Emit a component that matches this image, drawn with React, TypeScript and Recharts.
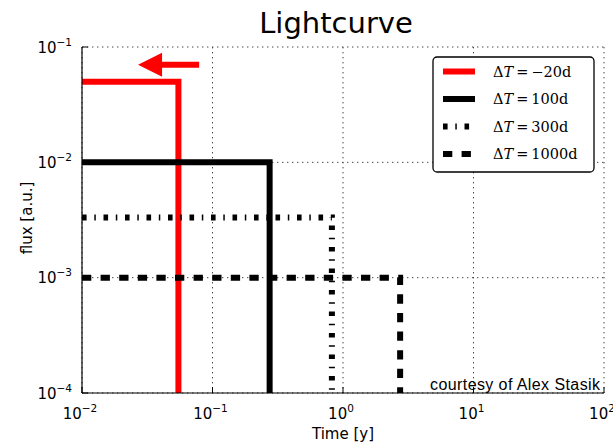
import React from 'react';
import { ComposedChart, Line, XAxis, YAxis, CartesianGrid, ReferenceLine } from 'recharts';

// light curves: flat flux until the drop time, then down to the floor
const deltaLabels = ['\u221220d', '100d', '300d', '1000d'];
const dropTimes = [0.0548, 0.274, 0.822, 2.74]; // years
const fluxLevels = [0.05, 0.01, 0.00333, 0.001]; // a.u.
const startTime = 0.01;
const fluxFloor = 0.0001;

// axes
const xMajor = [0.01, 0.1, 1, 10, 100];
const xExp = ['\u22122', '\u22121', '0', '1', '2'];
const yMajor = [0.0001, 0.001, 0.01, 0.1];
const yExp = ['\u22124', '\u22123', '\u22122', '\u22121'];
const minorSteps = [2, 3, 4, 5, 6, 7, 8, 9];

// annotation arrow (data coords)
const arrowTail = { t: 0.079, f: 0.0702 };
const arrowTip = { t: 0.0269, f: 0.0702 };

const lineStyles = [
  { stroke: '#ff0000', dash: undefined as string | undefined },
  { stroke: '#000000', dash: undefined as string | undefined },
  { stroke: '#000000', dash: '4.6 7.7 1.5 7.7' },
  { stroke: '#000000', dash: '9.3 9.3' },
];

const minorOf = (majors: number[]) =>
  majors.slice(0, -1).flatMap((m) => minorSteps.map((k) => +(m * k).toPrecision(3)));
const xMinor = minorOf(xMajor);
const yMinor = minorOf(yMajor);
const xAll = [...xMajor, ...xMinor];
const yAll = [...yMajor, ...yMinor];

const series = dropTimes.map((t, i) => [
  { t: startTime, f: fluxLevels[i] },
  { t, f: fluxLevels[i] },
  { t, f: fluxFloor },
]);

const SANS = 'DejaVu Sans, sans-serif';
const MAJOR = 6;
const MINOR = 3;

const majorIndex = (v: number, majors: number[]) =>
  majors.findIndex((m) => Math.abs(v / m - 1) < 1e-6);

const BottomTick = (p: any) => {
  const i = majorIndex(p.payload.value, xMajor);
  return (
    <g>
      <line x1={p.x} x2={p.x} y1={p.y} y2={p.y - MAJOR} stroke="#000" />
      <text x={p.x - 2} y={p.y + 26} textAnchor="middle" fontFamily={SANS} fontSize={15} fill="#000">
        10<tspan dy={-7} fontSize={10.5}>{xExp[i]}</tspan>
      </text>
    </g>
  );
};

const LeftTick = (p: any) => {
  const i = majorIndex(p.payload.value, yMajor);
  return (
    <g>
      <line x1={p.x} x2={p.x + MAJOR} y1={p.y} y2={p.y} stroke="#000" />
      <text x={p.x - 10} y={p.y + 5.5} textAnchor="end" fontFamily={SANS} fontSize={15} fill="#000">
        10<tspan dy={-7} fontSize={10.5}>{yExp[i]}</tspan>
      </text>
    </g>
  );
};

const MinorBottomTick = (p: any) => (
  <line x1={p.x} x2={p.x} y1={p.y} y2={p.y - MINOR} stroke="#000" />
);
const MinorLeftTick = (p: any) => (
  <line x1={p.x} x2={p.x + MINOR} y1={p.y} y2={p.y} stroke="#000" />
);
const TopTick = (p: any) => {
  const len = majorIndex(p.payload.value, xMajor) >= 0 ? MAJOR : MINOR;
  return <line x1={p.x} x2={p.x} y1={p.y} y2={p.y + len} stroke="#000" />;
};
const RightTick = (p: any) => {
  const len = majorIndex(p.payload.value, yMajor) >= 0 ? MAJOR : MINOR;
  return <line x1={p.x} x2={p.x - len} y1={p.y} y2={p.y} stroke="#000" />;
};

const ArrowShape = (p: any) => {
  const { x1, y1, x2, y2 } = p;
  const dx = x2 - x1;
  const dy = y2 - y1;
  const len = Math.hypot(dx, dy) || 1;
  const ux = dx / len;
  const uy = dy / len;
  const head = 24;
  const half = 12;
  const bx = x2 - ux * head;
  const by = y2 - uy * head;
  const pts = `${x2},${y2} ${bx - uy * half},${by + ux * half} ${bx + uy * half},${by - ux * half}`;
  return (
    <g>
      <line x1={x1} y1={y1} x2={bx + ux} y2={by + uy} stroke="#ff0000" strokeWidth={6} />
      <polygon points={pts} fill="#ff0000" />
    </g>
  );
};

const frame = { stroke: '#000', strokeWidth: 1.2 };
const logX = { type: 'number' as const, scale: 'log' as const, domain: [0.01, 100], allowDataOverflow: true };
const logY = { type: 'number' as const, scale: 'log' as const, domain: [0.0001, 0.1], allowDataOverflow: true };

const Legend = () => (
  <g>
    <rect x={433} y={57} width={161} height={115} rx={4} fill="#fff" stroke="#000" strokeWidth={1.3} />
    {deltaLabels.map((lab, i) => {
      const cy = 71.5 + i * 27.5;
      return (
        <g key={lab}>
          <line
            x1={443}
            x2={475}
            y1={cy}
            y2={cy}
            stroke={lineStyles[i].stroke}
            strokeWidth={6}
            strokeDasharray={lineStyles[i].dash}
          />
          <text x={493} y={cy + 5} fontFamily="DejaVu Serif, serif" fontSize={14.5} fill="#000">
            {'\u0394'}
            <tspan fontStyle="italic">T</tspan>
            <tspan dx={3}>=</tspan>
            <tspan dx={3}>{lab}</tspan>
          </text>
        </g>
      );
    })}
  </g>
);

export default function App() {
  return (
    <div style={{ position: 'absolute', left: 0, top: 0, width: 613, height: 443, background: '#fff' }}>
      <ComposedChart width={613} height={443} margin={{ top: 47, right: 9, bottom: 0, left: 0 }}>
        <CartesianGrid xAxisId="x" yAxisId="y" stroke="#444" strokeDasharray="1.4 3.6" />
        <XAxis
          xAxisId="x"
          dataKey="t"
          {...logX}
          ticks={xMajor}
          interval={0}
          height={50}
          tickLine={false}
          tickSize={0}
          tickMargin={0}
          axisLine={frame}
          tick={(p: any) => <BottomTick {...p} />}
        />
        <XAxis
          xAxisId="xm"
          {...logX}
          mirror
          ticks={xMinor}
          interval={0}
          height={0}
          tickLine={false}
          tickSize={0}
          tickMargin={0}
          axisLine={false}
          tick={(p: any) => <MinorBottomTick {...p} />}
        />
        <XAxis
          xAxisId="xt"
          orientation="top"
          {...logX}
          ticks={xAll}
          interval={0}
          height={0}
          tickLine={false}
          tickSize={0}
          tickMargin={0}
          axisLine={frame}
          tick={(p: any) => <TopTick {...p} />}
        />
        <YAxis
          yAxisId="y"
          {...logY}
          ticks={yMajor}
          interval={0}
          width={82}
          tickLine={false}
          tickSize={0}
          tickMargin={0}
          axisLine={frame}
          tick={(p: any) => <LeftTick {...p} />}
        />
        <YAxis
          yAxisId="ym"
          {...logY}
          mirror
          ticks={yMinor}
          interval={0}
          width={0}
          tickLine={false}
          tickSize={0}
          tickMargin={0}
          axisLine={false}
          tick={(p: any) => <MinorLeftTick {...p} />}
        />
        <YAxis
          yAxisId="yr"
          orientation="right"
          {...logY}
          ticks={yAll}
          interval={0}
          width={0}
          tickLine={false}
          tickSize={0}
          tickMargin={0}
          axisLine={frame}
          tick={(p: any) => <RightTick {...p} />}
        />
        {series.map((pts, i) => (
          <Line
            key={deltaLabels[i]}
            xAxisId="x"
            yAxisId="y"
            data={pts}
            dataKey="f"
            type="linear"
            stroke={lineStyles[i].stroke}
            strokeWidth={6}
            strokeDasharray={lineStyles[i].dash}
            dot={false}
            activeDot={false}
            isAnimationActive={false}
          />
        ))}
        <ReferenceLine
          xAxisId="x"
          yAxisId="y"
          segment={[
            { x: arrowTail.t, y: arrowTail.f },
            { x: arrowTip.t, y: arrowTip.f },
          ]}
          shape={(p: any) => <ArrowShape {...p} />}
        />
      </ComposedChart>
      <svg width={613} height={443} style={{ position: 'absolute', left: 0, top: 0, pointerEvents: 'none' }}>
        <text x={336} y={33} textAnchor="middle" fontFamily={SANS} fontSize={29} fill="#000">
          Lightcurve
        </text>
        <text x={343} y={439} textAnchor="middle" fontFamily={SANS} fontSize={15} fill="#000">
          Time [y]
        </text>
        <text
          x={0}
          y={0}
          transform="translate(32,218) rotate(-90)"
          textAnchor="middle"
          fontFamily={SANS}
          fontSize={15}
          fill="#000"
        >
          flux [a.u.]
        </text>
        <text
          x={600}
          y={390}
          textAnchor="end"
          fontFamily="Liberation Sans, Arial, sans-serif"
          fontSize={16}
          textLength={170}
          lengthAdjust="spacing"
          fill="#000"
        >
          courtesy of Alex Stasik
        </text>
        <Legend />
      </svg>
    </div>
  );
}
